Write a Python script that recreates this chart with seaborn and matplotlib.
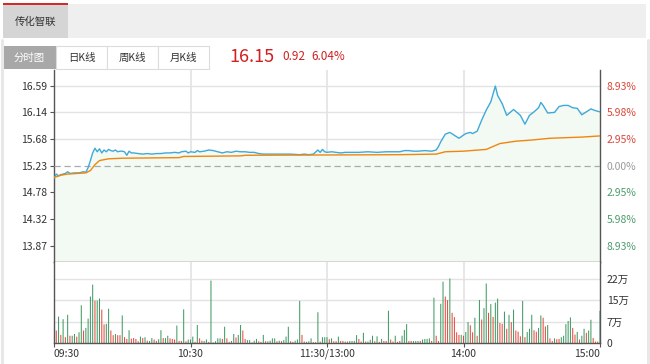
import pandas as pd
import matplotlib
matplotlib.use('Agg')
import matplotlib.pyplot as plt
import seaborn as sns
from matplotlib.patches import Rectangle
from matplotlib.lines import Line2D

sns.set_style('white')
plt.rcParams['font.family'] = ['Noto Sans CJK SC', 'DejaVu Sans']

stock_name = '传化智联'
tabs = ['分时图', '日K线', '周K线', '月K线']
last_price = '16.15'
change = '0.92'
change_pct = '6.04%'
pre_close = 15.23

price_ticks = [16.59, 16.14, 15.68, 15.23, 14.78, 14.32, 13.87]
pct_labels = ['8.93%', '5.98%', '2.95%', '0.00%', '2.95%', '5.98%', '8.93%']
vol_ticks = [0, 7.4, 14.8, 22.2]
vol_labels = ['0', '7万', '15万', '22万']
time_ticks = [0, 60, 120, 180, 240]
time_labels = ['09:30', '10:30', '11:30/13:00', '14:00', '15:00']

# minutes since 09:30 (lunch break removed) and last price
price_t = [0, 1, 2, 3, 5, 6, 7, 9, 11, 13, 14, 15, 16, 17, 18, 19, 20, 21, 22, 23,
           24, 25, 26, 27, 28, 29, 30, 31, 32, 33, 34, 35, 37, 39, 41, 43, 45, 47, 49, 51,
           53, 55, 56, 58, 59, 60, 62, 63, 64, 66, 68, 70, 72, 74, 76, 78, 80, 82, 84, 86,
           88, 90, 92, 96, 100, 104, 108, 110, 112, 114, 116, 117, 118, 119, 120, 122, 124, 126, 128, 130,
           134, 138, 142, 146, 150, 152, 154, 156, 158, 160, 163, 166, 168, 169, 170, 172, 174, 176, 178, 181,
           183, 184, 186, 188, 190, 192, 194, 195, 197, 199, 202, 205, 207, 209, 211, 213, 214, 215, 217, 220,
           222, 224, 226, 228, 230, 232, 234, 236, 238, 240]
price = [15.02, 15.09, 15.06, 15.08, 15.10, 15.13, 15.10, 15.11, 15.11, 15.13, 15.12, 15.20, 15.32, 15.45, 15.53, 15.47, 15.52, 15.45, 15.50, 15.47,
         15.51, 15.49, 15.48, 15.50, 15.47, 15.48, 15.48, 15.47, 15.41, 15.48, 15.45, 15.45, 15.44, 15.43, 15.44, 15.43, 15.44, 15.44, 15.45, 15.45,
         15.46, 15.45, 15.47, 15.48, 15.45, 15.47, 15.46, 15.49, 15.47, 15.48, 15.50, 15.49, 15.47, 15.45, 15.47, 15.46, 15.48, 15.47, 15.47, 15.46,
         15.46, 15.44, 15.43, 15.43, 15.43, 15.43, 15.42, 15.43, 15.42, 15.43, 15.50, 15.46, 15.51, 15.47, 15.46, 15.47, 15.46, 15.45, 15.46, 15.46,
         15.46, 15.47, 15.46, 15.47, 15.47, 15.47, 15.49, 15.49, 15.48, 15.48, 15.49, 15.48, 15.50, 15.56, 15.64, 15.77, 15.80, 15.75, 15.70, 15.78,
         15.80, 15.78, 15.82, 16.01, 16.18, 16.32, 16.59, 16.43, 16.29, 16.09, 16.19, 16.09, 15.94, 16.09, 16.15, 16.22, 16.31, 16.26, 16.13, 16.14,
         16.24, 16.26, 16.26, 16.22, 16.21, 16.10, 16.15, 16.20, 16.17, 16.15]

avg_t = [0, 3, 6, 14, 16, 18, 20, 24, 30, 55, 57, 82, 84, 152, 168, 172, 180, 190, 196, 203,
         210, 218, 225, 232, 240]
avg_price = [15.03, 15.07, 15.09, 15.11, 15.15, 15.25, 15.32, 15.35, 15.36, 15.37, 15.39, 15.40, 15.41, 15.42, 15.43, 15.47, 15.48, 15.51, 15.61, 15.65,
             15.67, 15.70, 15.71, 15.72, 15.74]

# volume per minute, in 万 (10k shares)
vol_am = [4.3, 9.1, 2.8, 8.2, 2.0, 9.7, 2.5, 2.5, 3.1, 2.2,
          3.7, 13.0, 4.3, 5.2, 8.4, 16.0, 20.1, 14.6, 14.6, 15.3,
          11.5, 6.4, 6.6, 11.8, 4.3, 2.7, 3.1, 2.7, 2.7, 9.5,
          2.0, 1.4, 4.4, 1.5, 1.7, 1.4, 0.6, 2.2, 1.7, 2.0,
          0.8, 0.7, 1.7, 1.2, 0.7, 1.3, 4.4, 1.7, 1.7, 2.5,
          1.6, 1.4, 1.2, 6.0, 0.7, 0.7, 11.6, 0.6, 1.2, 1.2,
          2.2, 0.4, 6.2, 1.6, 0.8, 0.7, 1.2, 0.4, 21.5, 0.2,
          0.6, 1.6, 1.6, 1.4, 5.6, 1.6, 0.4, 0.7, 3.1, 1.9,
          2.8, 6.2, 4.3, 1.4, 1.0, 1.0, 0.2, 0.8, 1.4, 0.6,
          0.4, 2.8, 0.6, 0.6, 0.8, 1.6, 1.6, 0.6, 0.8, 0.6,
          1.0, 2.2, 5.6, 0.6, 0.4, 0.8, 1.2, 14.5, 2.8, 0.5,
          0.4, 0.6, 1.6, 0.3, 0.3, 10.6, 0.5, 2.0, 2.0, 2.0]
vol_pm = [1.3, 1.6, 0.6, 0.6, 2.2, 0.7, 0.7, 0.5, 0.5, 0.7,
          0.7, 0.7, 2.7, 1.4, 0.5, 3.5, 0.5, 0.5, 1.1, 2.5,
          0.6, 2.3, 0.4, 1.4, 0.7, 0.7, 11.1, 1.2, 0.5, 2.5,
          0.4, 0.7, 2.5, 4.5, 6.5, 0.7, 0.7, 0.7, 0.7, 0.7,
          0.7, 1.2, 1.4, 1.4, 1.6, 0.7, 15.6, 2.5, 0.7, 13.5,
          21.1, 16.0, 14.8, 22.2, 10.4, 8.9, 3.7, 2.8, 2.8, 2.5,
          3.8, 7.2, 6.1, 3.7, 8.7, 2.5, 14.8, 8.1, 12.0, 20.5,
          10.4, 13.4, 9.0, 13.9, 15.3, 6.9, 6.6, 10.8, 4.9, 9.7,
          7.2, 11.5, 4.3, 3.9, 2.3, 14.5, 2.0, 3.8, 4.9, 9.7,
          4.4, 3.9, 5.2, 9.5, 8.7, 5.7, 6.2, 1.6, 0.7, 1.6,
          1.3, 1.4, 2.0, 2.5, 6.5, 7.6, 8.8, 5.2, 2.9, 3.8,
          1.2, 2.5, 4.9, 3.5, 4.3, 8.0, 1.7, 0.5, 0.5, 11.1]
# r = up minute, g = down minute
dir_am = ('rgrgrgrggr' 'ggrggggrgg' 'rrggrrgrrg' 'rrgrrrrgrg' 'rggrrggrgg' 'rrrgrrgrgg'
          'grgrrggrgr' 'gggrgrrggr' 'ggrrggrggr' 'rgrggggrgr' 'gggrrgggrr' 'gggrrgrggg')
dir_pm = ('rgrrgrrgrg' 'gggrrgrggg' 'rgrgrrgrrg' 'rrgggrrggg' 'rggggrgrrg' 'grrgrrrrgr'
          'ggrrgrgrgg' 'rgrggrrgrg' 'rgrrrgrggg' 'rrggrrgrrg' 'rrgggggrrg' 'rggrggrrrg')

W, H = 650, 364


def fx(x):
    return x / W


def fy(y):
    return 1 - y / H


fig = plt.figure(figsize=(6.5, 3.64), dpi=100)


def box(x0, y0, x1, y1, fc, ec='none', lw=0):
    fig.add_artist(Rectangle((fx(x0), fy(y1)), fx(x1) - fx(x0), fy(y0) - fy(y1),
                             transform=fig.transFigure, fc=fc, ec=ec, lw=lw))


# header
box(3, 4, 646, 38, '#efefef')
box(3, 4, 68, 38, '#d5d5d5')
box(3, 2.5, 68, 4.5, '#d42a2a')
fig.text(fx(35.5), fy(21.5), stock_name, ha='center', va='center', fontsize=7.5, color='#333333')
fig.add_artist(Line2D([fx(1.5), fx(1.5)], [fy(40), fy(364)], transform=fig.transFigure, color='#e8e8e8', lw=2.2))
fig.add_artist(Line2D([fx(647.5), fx(647.5)], [fy(40), fy(364)], transform=fig.transFigure, color='#e8e8e8', lw=2.2))

tab_x = [(3, 56), (56, 107), (107, 158), (158, 209)]
for (x0, x1), t in zip(tab_x, tabs):
    if t == '分时图':
        box(x0, 46, x1, 69, '#a8a8a8')
        fig.text(fx((x0 + x1) / 2), fy(57.5), t, ha='center', va='center', fontsize=7.5, color='white')
    else:
        box(x0, 46, x1, 69, 'white', '#dcdcdc', 0.8)
        fig.text(fx((x0 + x1) / 2), fy(57.5), t, ha='center', va='center', fontsize=7.5, color='#333333')

fig.text(fx(229), fy(57), last_price, ha='left', va='center', fontsize=13, color='#d0201f')
fig.text(fx(282), fy(57), change, ha='left', va='center', fontsize=8.5, color='#d0201f')
fig.text(fx(311), fy(57), change_pct, ha='left', va='center', fontsize=8.5, color='#d0201f')

# axes
ax = fig.add_axes([fx(54), fy(261.7), fx(600) - fx(54), fy(70) - fy(261.7)])
axv = fig.add_axes([fx(54), fy(343), fx(600) - fx(54), fy(261.7) - fy(343)])

span = 1.633
ax.set_ylim(pre_close - span, pre_close + span)
ax.set_xlim(0, 240)
axv.set_xlim(0, 240)
axv.set_ylim(0, 28)

grid_c = '#e3e3e3'
for v in price_ticks:
    if v != pre_close:
        ax.axhline(v, color=grid_c, lw=1, zorder=0)
ax.axhline(pre_close, color='#aaaaaa', lw=0.9, ls=(0, (5, 3)), zorder=3)
for v in vol_ticks[1:]:
    axv.axhline(v, color=grid_c, lw=1, zorder=0)
for t in time_ticks[1:-1]:
    ax.axvline(t, color=grid_c, lw=1.2, zorder=0)
    axv.axvline(t, color=grid_c, lw=1.2, zorder=0)

ax.fill_between(price_t, price, pre_close - span, color='#f3f9f3', lw=0, zorder=1)
sns.lineplot(x=price_t, y=price, ax=ax, color='#3fa9d8', lw=1.0, zorder=4)
sns.lineplot(x=avg_t, y=avg_price, ax=ax, color='#f0870c', lw=1.0, zorder=5)

vol_df = pd.DataFrame({
    'minute': list(range(1, 241)),
    'vol': vol_am + vol_pm,
    'dir': list(dir_am + dir_pm),
})
sns.barplot(data=vol_df, x='minute', y='vol', hue='dir', palette={'r': '#e8483b', 'g': '#3f9a63'},
            native_scale=True, dodge=False, width=0.45, errorbar=None, legend=False,
            saturation=1, linewidth=0, ax=axv, snap=False)
axv.set_xlim(0, 240)
axv.set_ylim(0, 28)

# spines
for a in (ax, axv):
    for s in ('left', 'right', 'bottom'):
        a.spines[s].set_color('#555555')
        a.spines[s].set_linewidth(1)
    a.spines['top'].set_visible(False)
    a.set_xlabel('')
    a.set_ylabel('')

ax.set_yticks(price_ticks)
ax.set_yticklabels([f'{v:.2f}' for v in price_ticks])
ax.set_xticks([])
ax.tick_params(axis='y', left=True, length=3, width=0.8, color='#555555', labelsize=7.5,
               labelcolor='#333333', pad=2)

axr = ax.twinx()
axr.set_ylim(ax.get_ylim())
axr.set_yticks(price_ticks)
axr.set_yticklabels(pct_labels)
axr.tick_params(axis='y', right=False, length=0, labelsize=7.5, pad=5)
for lab, v in zip(axr.get_yticklabels(), price_ticks):
    if v > pre_close:
        lab.set_color('#d9463b')
    elif v < pre_close:
        lab.set_color('#4e9c6c')
    else:
        lab.set_color('#999999')
for s in axr.spines.values():
    s.set_visible(False)

axv.yaxis.tick_right()
axv.set_yticks(vol_ticks)
axv.set_yticklabels(vol_labels)
axv.tick_params(axis='y', left=False, right=False, length=0, labelsize=7.5, labelcolor='#333333', pad=5)
axv.set_xticks(time_ticks)
axv.set_xticklabels(time_labels)
axv.tick_params(axis='x', bottom=True, length=3, width=0.8, color='#555555', labelsize=7.5,
                labelcolor='#333333', pad=1)
xl = axv.get_xticklabels()
xl[0].set_ha('left')
xl[-1].set_ha('right')

fig.savefig('out.png', dpi=100)
